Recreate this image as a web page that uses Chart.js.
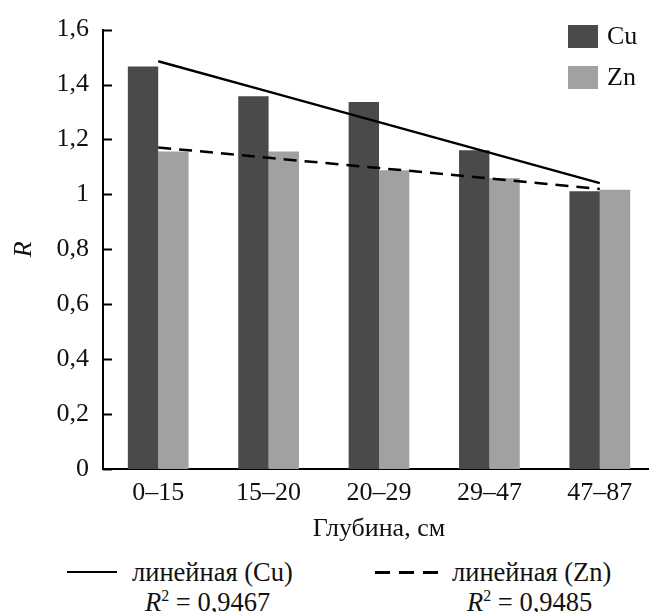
<!DOCTYPE html>
<html>
<head>
<meta charset="utf-8">
<script src="https://cdn.jsdelivr.net/npm/chart.js@4"></script>
<style>
    html, body { margin: 0; padding: 0; background: #fff; overflow: hidden; }
    #wrap { position: relative; width: 649px; height: 612px; overflow: hidden; font-family: 'Liberation Serif', serif; }
    #chart { position: absolute; left: 0; top: 0; }
    .trend { position: absolute; font-size: 26.5px; line-height: 28px; color: #111; white-space: nowrap; }
    .sample { position: absolute; height: 0; }
    .r2 i { font-style: italic; }
    .r2 sup { font-size: 16px; vertical-align: 10px; line-height: 0; }
</style>
</head>
<body>
<div id="wrap">
    <canvas id="chart" width="655" height="550"></canvas>
    <div class="sample" style="left:67px; top:571px; width:50px; border-top:2.5px solid #000;"></div>
    <div class="trend" style="left:132px; top:558px;">линейная (Cu)</div>
    <div class="trend r2" style="left:145px; top:588px;"><i>R</i><sup>2</sup> = 0,9467</div>
    <div class="sample" style="left:375px; top:571px; width:63px; height:3px; background:repeating-linear-gradient(90deg, #000 0 15px, transparent 15px 24px);"></div>
    <div class="trend" style="left:452px; top:558px;">линейная (Zn)</div>
    <div class="trend r2" style="left:467px; top:588px;"><i>R</i><sup>2</sup> = 0,9485</div>
</div>
<script>
// Depth intervals and R ratios
const depths = ['0–15', '15–20', '20–29', '29–47', '47–87'];
const cuValues = [1.466, 1.357, 1.336, 1.161, 1.011];
const znValues = [1.156, 1.156, 1.088, 1.059, 1.017];
// linear trend lines as drawn in the figure
const cuTrend = [1.485, 1.374, 1.263, 1.152, 1.041];
const znTrend = [1.171, 1.133, 1.096, 1.058, 1.020];
const yTickLabels = ['0', '0,2', '0,4', '0,6', '0,8', '1', '1,2', '1,4', '1,6'];

const serif = "'Liberation Serif', serif";
const cuColor = '#4a4a4a';
const znColor = '#a1a1a1';

// small ticks pointing into the plot, like the original
const innerTicks = {
    id: 'innerTicks',
    afterDraw(chart) {
        const ctx = chart.ctx;
        const y = chart.scales.y;
        const left = chart.chartArea.left;
        ctx.save();
        ctx.strokeStyle = '#000';
        ctx.lineWidth = 2;
        y.ticks.forEach(t => {
            const py = Math.round(y.getPixelForValue(t.value)) + 0.5;
            ctx.beginPath();
            ctx.moveTo(left, py);
            ctx.lineTo(left + 9, py);
            ctx.stroke();
        });
        ctx.restore();
    }
};

// legend box in the top right corner (bars only)
const cornerLegend = {
    id: 'cornerLegend',
    afterDraw(chart) {
        const ctx = chart.ctx;
        const x = chart.chartArea.right - 87;
        ctx.save();
        ctx.font = '26px ' + serif;
        ctx.textBaseline = 'middle';
        chart.data.datasets.filter(d => d.type === 'bar').forEach((d, i) => {
            const top = 25 + i * 41;
            ctx.fillStyle = d.backgroundColor;
            ctx.fillRect(x, top, 30, 23);
            ctx.fillStyle = '#111';
            ctx.fillText(d.label, x + 39, top + 12);
        });
        ctx.restore();
    }
};

function draw() {
    const ctx = document.getElementById('chart').getContext('2d');
    new Chart(ctx, {
        data: {
            labels: depths,
            datasets: [
                {
                    type: 'line', label: 'линейная (Cu)', data: cuTrend,
                    borderColor: '#000', borderWidth: 2.5, pointRadius: 0, order: 1
                },
                {
                    type: 'line', label: 'линейная (Zn)', data: znTrend,
                    borderColor: '#000', borderWidth: 2.5, borderDash: [13, 8], pointRadius: 0, order: 1
                },
                {
                    type: 'bar', label: 'Cu', data: cuValues, backgroundColor: cuColor,
                    categoryPercentage: 0.55, barPercentage: 1.0, order: 2
                },
                {
                    type: 'bar', label: 'Zn', data: znValues, backgroundColor: znColor,
                    categoryPercentage: 0.55, barPercentage: 1.0, order: 2
                }
            ]
        },
        options: {
            responsive: false,
            animation: false,
            layout: { padding: { top: 25, right: 0, bottom: 0, left: 0 } },
            plugins: {
                legend: { display: false },
                tooltip: { enabled: false }
            },
            scales: {
                x: {
                    offset: true,
                    grid: { display: false, drawTicks: false },
                    border: { display: true, color: '#000', width: 2 },
                    ticks: { color: '#111', font: { family: serif, size: 26 }, padding: 9 },
                    title: {
                        display: true, text: 'Глубина, см', color: '#111',
                        font: { family: serif, size: 26 }, padding: { top: 0, bottom: 5 }
                    },
                    afterFit(scale) { scale.height = 81; }
                },
                y: {
                    min: 0,
                    max: 1.6,
                    grid: { display: false, drawTicks: false },
                    border: { display: true, color: '#000', width: 2 },
                    ticks: {
                        stepSize: 0.2,
                        color: '#111',
                        font: { family: serif, size: 26 },
                        padding: 14,
                        callback: (v, i) => yTickLabels[i]
                    },
                    title: {
                        display: true, text: 'R', color: '#111',
                        font: { family: serif, size: 26, style: 'italic' }, padding: 9
                    },
                    afterFit(scale) { scale.width = 103; }
                }
            }
        },
        plugins: [innerTicks, cornerLegend]
    });
}

// make sure the serif face is ready before the canvas text is drawn
Promise.all([
    document.fonts.load("26px 'Liberation Serif'"),
    document.fonts.load("italic 26px 'Liberation Serif'")
]).then(draw, draw);
</script>
</body>
</html>
